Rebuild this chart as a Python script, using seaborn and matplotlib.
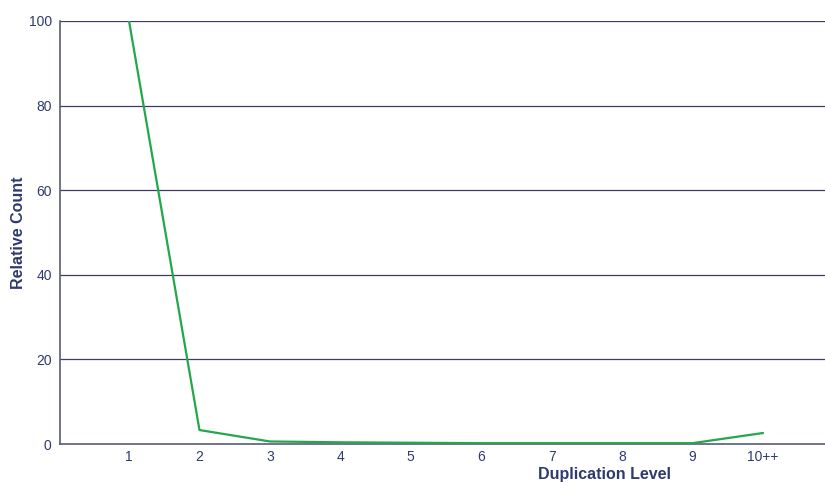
import matplotlib
matplotlib.use("Agg")
import matplotlib.pyplot as plt
import seaborn as sns
import pandas as pd

# Sequence duplication levels (relative count per duplication bin)
levels = [1, 2, 3, 4, 5, 6, 7, 8, 9, 10]
level_labels = ["1", "2", "3", "4", "5", "6", "7", "8", "9", "10++"]
relative_count = [100.0, 3.3, 0.6, 0.4, 0.3, 0.2, 0.2, 0.2, 0.2, 2.6]
y_ticks = [0, 20, 40, 60, 80, 100]

sns.set_theme(style="white")
plt.rcParams["font.family"] = ["Liberation Sans", "DejaVu Sans"]

text_color = "#2e3a6e"
axis_color = "#5a5a78"

fig = plt.figure(figsize=(8.25, 4.83), dpi=100)
ax = fig.add_axes([60 / 825, 1 - 444 / 483, 765 / 825, 423 / 483])

df = pd.DataFrame({"level": levels, "count": relative_count})
sns.lineplot(data=df, x="level", y="count", ax=ax, color="#22a84a",
             linewidth=1.6, zorder=3)

ax.set_xlim(0.02, 10.88)
ax.set_ylim(0, 100)
ax.set_xticks(levels)
ax.set_xticklabels(level_labels)
ax.set_yticks(y_ticks)

for y in y_ticks[1:]:
    ax.axhline(y, color="#3c3c64", linewidth=0.9, zorder=1)

for side in ["top", "right"]:
    ax.spines[side].set_visible(False)
for side in ["left", "bottom"]:
    ax.spines[side].set_color(axis_color)
    ax.spines[side].set_linewidth(1.2)

ax.tick_params(axis="x", direction="in", length=4, width=0.8, color=axis_color,
               labelsize=10, labelcolor=text_color, pad=4)
ax.tick_params(axis="y", length=0, labelsize=10, labelcolor=text_color, pad=6)

ax.set_xlabel("Duplication Level", fontsize=11.5, fontweight="bold",
              color=text_color, labelpad=2)
ax.xaxis.set_label_coords((605 - 60) / 765, -0.054)
ax.set_ylabel("Relative Count", fontsize=11.5, fontweight="bold",
              color=text_color)
ax.yaxis.set_label_coords(-0.044, 0.5)

fig.savefig("out.png", dpi=100)
